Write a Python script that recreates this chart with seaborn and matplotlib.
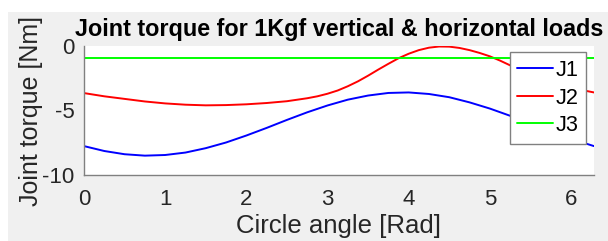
import numpy as np
import pandas as pd
import matplotlib
matplotlib.use('Agg')
import matplotlib.pyplot as plt
import seaborn as sns

# values
angle_j1 = [0, 0.25, 0.5, 0.75, 1.0, 1.25, 1.5, 1.75, 2.0, 2.25, 2.5, 2.75, 3.0,
            3.25, 3.5, 3.75, 4.0, 4.25, 4.5, 4.75, 5.0, 5.25, 5.5, 5.75, 6.0, 6.2832]
j1 = [-7.76, -8.14, -8.39, -8.50, -8.45, -8.26, -7.92, -7.48, -6.94, -6.35, -5.73,
      -5.14, -4.61, -4.16, -3.84, -3.64, -3.60, -3.72, -3.97, -4.37, -4.85, -5.41,
      -6.02, -6.63, -7.20, -7.76]
angle_j2 = [0, 0.25, 0.5, 0.75, 1.0, 1.25, 1.5, 1.75, 2.0, 2.25, 2.5, 2.75, 2.875,
            3.0, 3.125, 3.25, 3.375, 3.5, 3.625, 3.75, 3.875, 4.0, 4.125, 4.25,
            4.375, 4.5, 4.625, 4.75, 4.875, 5.0, 5.125, 5.25, 5.375, 5.5, 5.75,
            6.0, 6.2832]
j2 = [-3.65, -3.90, -4.10, -4.30, -4.45, -4.55, -4.60, -4.58, -4.52, -4.42, -4.28,
      -4.05, -3.90, -3.70, -3.45, -3.12, -2.74, -2.30, -1.83, -1.38, -0.95, -0.60,
      -0.32, -0.13, -0.04, -0.05, -0.15, -0.32, -0.54, -0.80, -1.13, -1.50, -1.85,
      -2.20, -2.80, -3.25, -3.60]
angle_j3 = [0, 6.2832]
j3 = [-0.95, -0.95]
joints = ['J1', 'J2', 'J3']
colors = ['#0000ff', '#ff0000', '#00ff00']

df = pd.DataFrame({
    'angle': angle_j1 + angle_j2 + angle_j3,
    'torque': j1 + j2 + j3,
    'joint': ['J1'] * len(j1) + ['J2'] * len(j2) + ['J3'] * len(j3),
})

sns.set_style('white')
plt.rcParams['font.family'] = ['Liberation Sans', 'DejaVu Sans']
plt.rcParams['axes.unicode_minus'] = False

fig = plt.figure(figsize=(6.08, 2.41), dpi=100)
fig.patch.set_facecolor('white')
bg = plt.Rectangle((8 / 608, 0), 1, 1 - 12 / 241, transform=fig.transFigure,
                   facecolor='#f0f0f0', edgecolor='none', zorder=-10)
fig.patches.append(bg)

ax = fig.add_axes([84 / 608, 1 - 175 / 241, 510 / 608, 129 / 241])
sns.lineplot(data=df, x='angle', y='torque', hue='joint', hue_order=joints,
             palette=colors, linewidth=1.4, ax=ax)

ax.set_xlim(0, 2 * np.pi)
ax.set_ylim(-10, 0)
ax.set_xticks(range(7))
ax.set_yticks([-10, -5, 0])
ax.tick_params(direction='in', length=4, width=0.8, color='#808080',
               labelsize=16, labelcolor='#262626')
ax.tick_params(axis='x', pad=10)
ax.tick_params(axis='y', pad=7)
for s in ['top', 'right']:
    ax.spines[s].set_visible(False)
for s in ['left', 'bottom']:
    ax.spines[s].set_color('#808080')
    ax.spines[s].set_linewidth(1.0)

ax.set_xlabel('Circle angle [Rad]', fontsize=18.5, color='#262626', labelpad=3)
ax.set_ylabel('Joint torque [Nm]', fontsize=18, color='#262626', labelpad=-1)
ax.set_title('Joint torque for 1Kgf vertical & horizontal loads',
             fontsize=16.8, fontweight='bold', color='black', pad=7)

leg = ax.legend(loc='upper right', bbox_to_anchor=(0.984, 0.95), fontsize=15.6,
                frameon=True, fancybox=False, edgecolor='#808080', framealpha=1,
                handlelength=1.65, handletextpad=0.1, borderpad=0.35,
                labelspacing=0.3, borderaxespad=0)
leg.get_frame().set_linewidth(1.0)
for t in leg.get_texts():
    t.set_color('black')

fig.savefig('out.png', dpi=100)
